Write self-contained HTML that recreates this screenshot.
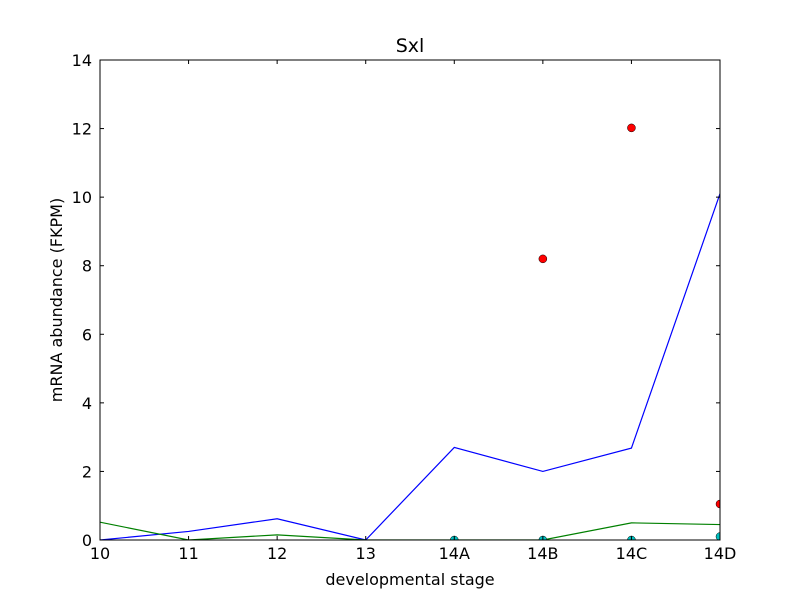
<!DOCTYPE html>
<html><head><meta charset="utf-8"><style>body{margin:0;background:#fff}svg{display:block;font-family:"DejaVu Sans","Liberation Sans",sans-serif}</style></head>
<body>
<svg id="chart" width="800" height="600"></svg>
<script>
const categories=["10","11","12","13","14A","14B","14C","14D"];
const blueSeries=[0,0.25,0.62,0,2.7,2.0,2.68,10.1];
const greenSeries=[0.52,0,0.15,0,0,0,0.5,0.45];
const redIdx=[5,6,7];
const redVals=[8.2,12.02,1.05];
const cyanIdx=[4,5,6,7];
const cyanVals=[0,0,0,0.1];
const yTicks=[0,2,4,6,8,10,12,14];
const NS="http://www.w3.org/2000/svg";
const svg=document.getElementById('chart');
const L=100,R=720,T=60,B=540;
const xs=i=>L+i*(R-L)/(categories.length-1);
const ys=v=>B-v*(B-T)/14;
function mk(t,a,p){const e=document.createElementNS(NS,t);for(const k in a)e.setAttribute(k,a[k]);(p||svg).appendChild(e);return e;}
const defs=mk('defs',{});const cp=mk('clipPath',{id:'cp'},defs);mk('rect',{x:L,y:T,width:R-L,height:B-T},cp);
const g=mk('g',{'clip-path':'url(#cp)'});


function line(arr,col,name){const l=mk('polyline',{points:arr.map((v,i)=>xs(i)+','+ys(v)).join(' '),fill:'none',stroke:col,'stroke-width':1.2},g);

}
line(blueSeries,'#0000ff','blue-line');
line(greenSeries,'#008000','green-line');
redIdx.forEach((ix,k)=>{const c=mk('circle',{cx:xs(ix),cy:ys(redVals[k]),r:4,fill:'#ff0000',stroke:'#000','stroke-width':0.5},g);

});
cyanIdx.forEach((ix,k)=>{const c=mk('circle',{cx:xs(ix),cy:ys(cyanVals[k]),r:4,fill:'#00bfbf',stroke:'#000','stroke-width':0.5},g);

});
const fr=mk('rect',{x:L,y:T,width:R-L,height:B-T,fill:'none',stroke:'#000','stroke-width':1});


yTicks.forEach(v=>{const y=ys(v);mk('line',{x1:L,x2:L+4,y1:y,y2:y,stroke:'#000'});mk('line',{x1:R,x2:R-4,y1:y,y2:y,stroke:'#000'});
const t=mk('text',{x:L-8,y:y+6,'text-anchor':'end','font-size':16});t.textContent=v;

});
categories.forEach((c,i)=>{const x=xs(i);mk('line',{x1:x,x2:x,y1:B,y2:B-4,stroke:'#000'});mk('line',{x1:x,x2:x,y1:T,y2:T+4,stroke:'#000'});
const t=mk('text',{x:x,y:B+19,'text-anchor':'middle','font-size':16});t.textContent=c;

});
</script>
<svg style="position:absolute;left:0;top:0" width="800" height="600">
<text x="410" y="52" text-anchor="middle" font-size="19">Sxl</text>
<text x="410" y="585" text-anchor="middle" font-size="16">developmental stage</text>
<text transform="translate(62,300) rotate(-90)" text-anchor="middle" font-size="16">mRNA abundance (FKPM)</text>
</svg>
</body></html>
